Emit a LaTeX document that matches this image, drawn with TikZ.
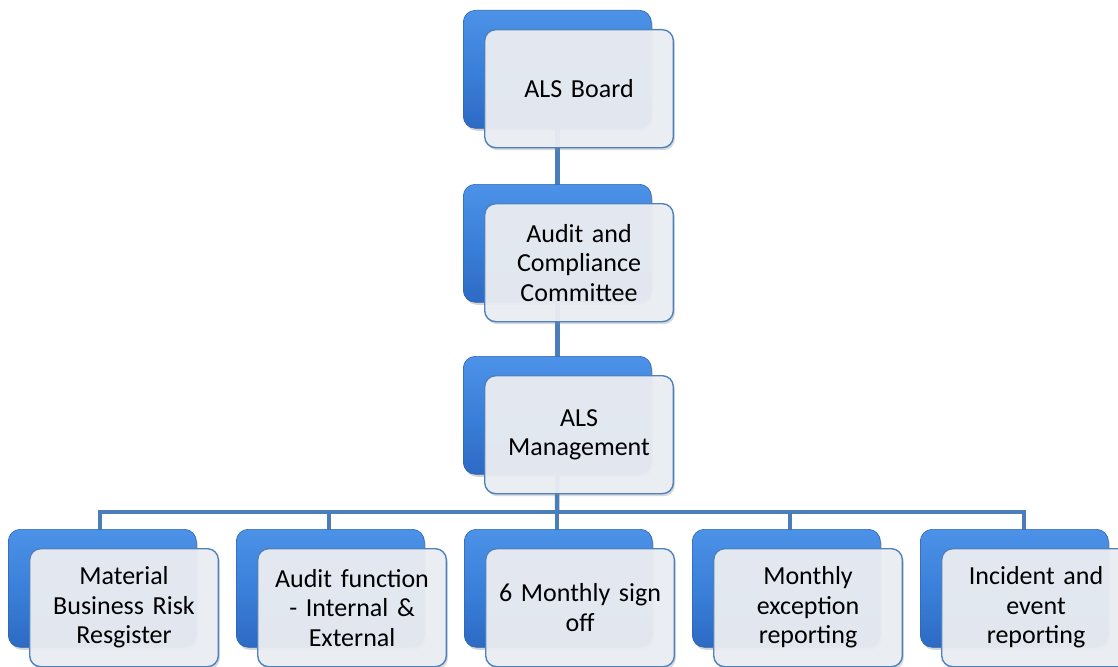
\documentclass[tikz,border=0pt]{standalone}
\usepackage{fontspec}
\setmainfont{Carlito}
\usetikzlibrary{shadows}
\definecolor{linec}{HTML}{4A7EBB}
\definecolor{boxtop}{HTML}{4C92E8}
\definecolor{boxmid}{HTML}{3A80DA}
\definecolor{boxbot}{HTML}{2D6AC4}
\definecolor{boxedge}{HTML}{2F64AE}
\definecolor{frontfill}{HTML}{EBEEF3}
\definecolor{frontedge}{HTML}{4F81BD}
\pgfdeclarelayer{bg}
\pgfsetlayers{bg,main}
\tikzset{
  backbox/.style={anchor=north west, minimum width=188pt, minimum height=118pt,
    rounded corners=12pt, draw=boxedge, line width=0.6pt,
    top color=boxtop, bottom color=boxbot, middle color=boxmid,
    drop shadow={opacity=0.35, shadow xshift=1.5pt, shadow yshift=-2.5pt}},
  frontbox/.style={anchor=north west, minimum width=188pt, minimum height=118pt,
    text width=182pt, align=center, rounded corners=11pt,
    draw=frontedge, line width=1.4pt, fill=frontfill, fill opacity=0.95, text opacity=1,
    font=\fontsize{26pt}{29.5pt}\selectfont,
    drop shadow={opacity=0.3, shadow xshift=1.5pt, shadow yshift=-2.5pt}},
  conn/.style={draw=linec, line width=4.5pt}
}
\begin{document}
\begin{tikzpicture}[x=1pt,y=-1pt]
\useasboundingbox (0,0) rectangle (1118,666);
% row 1
\node[backbox] (b1) at (463,10) {};
\node[frontbox] (f1) at (484,29) {ALS Board};
% row 2
\node[backbox] (b2) at (463,184) {};
\node[frontbox] (f2) at (484,203) {Audit and\\Compliance\\Committee};
% row 3
\node[backbox] (b3) at (463,356) {};
\node[frontbox] (f3) at (484,375) {ALS\\Management};
% row 4
\node[backbox] (c1) at (8,529) {};
\node[frontbox] (g1) at (29,548) {Material\\Business Risk\\Resgister};
\node[backbox] (c2) at (236,529) {};
\node[frontbox] (g2) at (257,548) {Audit function\\- Internal \&\\External};
\node[backbox] (c3) at (464,529) {};
\node[frontbox] (g3) at (485,548) {6 Monthly sign\\off};
\node[backbox] (c4) at (692,529) {};
\node[frontbox] (g4) at (713,548) {Monthly\\exception\\reporting};
\node[backbox] (c5) at (920,529) {};
\node[frontbox] (g5) at (941,548) {Incident and\\event\\reporting};
% drop points
\coordinate (bus) at (557,512);
\coordinate (d1) at (100,535);
\coordinate (d2) at (329,535);
\coordinate (d3) at (557,535);
\coordinate (d4) at (790,535);
\coordinate (d5) at (1024,535);
\begin{pgfonlayer}{bg}
\draw[conn] (b1.center) -- (b2.center);
\draw[conn] (b2.center) -- (b3.center);
\draw[conn] (b3.center) -- (bus);
\foreach \d in {d1,d2,d3,d4,d5}{
  \draw[conn,line join=miter] (bus) -| (\d);
}
\end{pgfonlayer}
\end{tikzpicture}
\end{document}
